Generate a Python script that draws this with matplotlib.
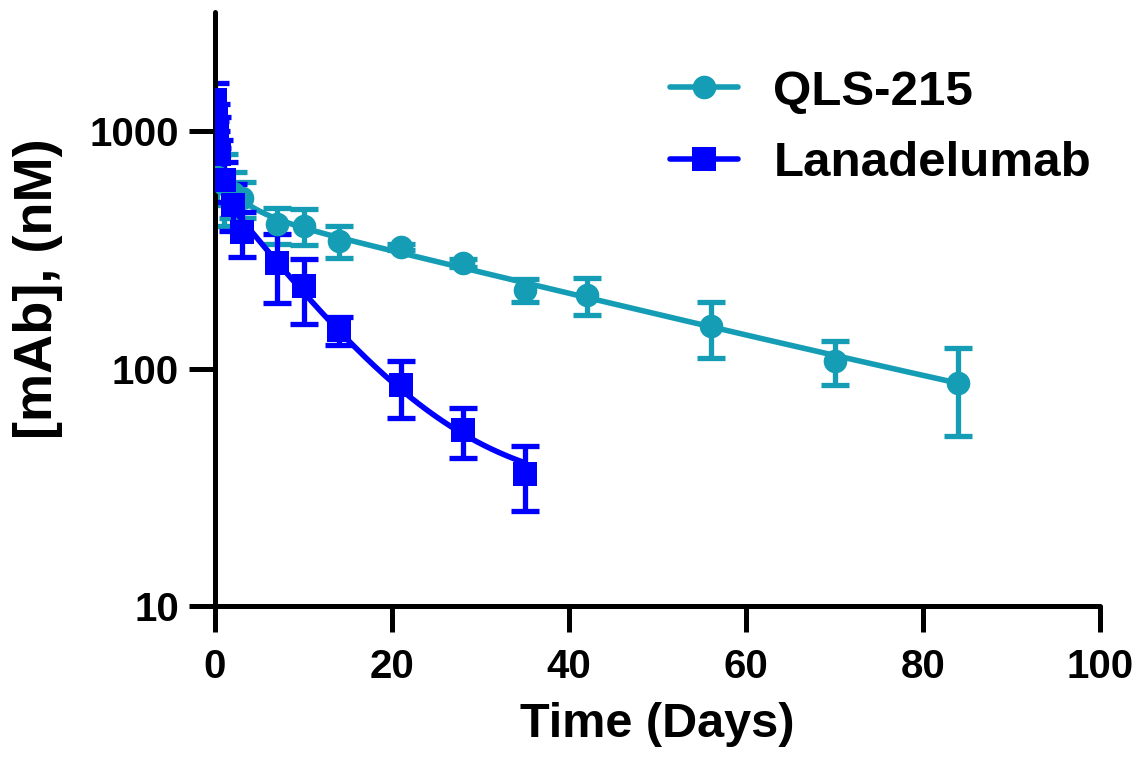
import numpy as np
import matplotlib
matplotlib.use("Agg")
import matplotlib.pyplot as plt

# ---- data ----
qls_t = [0.25, 1, 2, 3, 7, 10, 14, 21, 28, 35, 42, 56, 70, 84]
qls_mean = [640, 600, 550, 520, 405, 400, 345, 325, 278, 214, 204, 151, 108, 87]
qls_sd = [150, 200, 120, 90, 70, 70, 53, 10, 10, 23, 36, 40, 23, 35]

lan_t = [0.04, 0.125, 0.25, 0.5, 1, 2, 3, 7, 10, 14, 21, 28, 35]
lan_mean = [1350, 1150, 1000, 800, 620, 490, 376, 278, 222, 145, 85, 55, 36]
lan_sd = [250, 150, 150, 120, 120, 110, 80, 90, 68, 20, 23, 13, 11]

x_ticks = [0, 20, 40, 60, 80, 100]
y_ticks = [10, 100, 1000]
y_tick_labels = ["10", "100", "1000"]

qls_color = "#149DB5"
lan_color = "#0000FF"


def decay_fit(t, y):
    """Unweighted least-squares two-phase decay with plateau (grid search on rates)."""
    t = np.asarray(t, float)
    y = np.asarray(y, float)
    rates = np.geomspace(0.003, 30, 90)
    best = None
    for i, a in enumerate(rates):
        for j in range(i):
            b = rates[j]
            X = np.column_stack([np.exp(-a * t), np.exp(-b * t), np.ones_like(t)])
            coef, *_ = np.linalg.lstsq(X, y, rcond=None)
            if np.any(coef < 0):
                continue
            sse = np.sum((X @ coef - y) ** 2)
            if best is None or sse < best[0]:
                best = (sse, a, b, coef)
    _, a, b, coef = best
    return lambda tt: coef[0] * np.exp(-a * tt) + coef[1] * np.exp(-b * tt) + coef[2]


plt.rcParams['font.family'] = ['Liberation Sans', 'DejaVu Sans']
plt.rcParams['font.weight'] = 'bold'

fig = plt.figure(figsize=(11.41, 7.64), dpi=100)
ax = fig.add_axes([215 / 1141, 1 - 606 / 764, (1100 - 215) / 1141, (606 - 12) / 764])

for t, m, s, col, mk, lab in [
    (qls_t, qls_mean, qls_sd, qls_color, 'o', 'QLS-215'),
    (lan_t, lan_mean, lan_sd, lan_color, 's', 'Lanadelumab'),
]:
    f = decay_fit(t, m)
    tt = np.linspace(0, max(t), 600)
    ax.plot(tt, f(tt), color=col, lw=4, solid_capstyle='round', zorder=2)
    ax.errorbar(t, m, yerr=s, fmt='none', ecolor=col, elinewidth=3.8,
                capsize=10, capthick=3.8, zorder=2)
    ax.plot(t, m, linestyle='none', marker=mk, ms=17, color=col,
            markeredgewidth=0, zorder=3)
    ax.plot([], [], color=col, lw=4, marker=mk, ms=17, markeredgewidth=0,
            label=lab, solid_capstyle='round')

ax.set_yscale('log')
ax.set_xlim(0, 100)
ax.set_ylim(10, 10 ** (1 + 594 / 237.5))
ax.set_xticks(x_ticks)
ax.set_xticklabels([str(v) for v in x_ticks])
ax.yaxis.set_major_locator(matplotlib.ticker.FixedLocator(y_ticks))
ax.yaxis.set_major_formatter(matplotlib.ticker.FixedFormatter(y_tick_labels))
ax.yaxis.set_minor_locator(matplotlib.ticker.NullLocator())

for side in ['top', 'right']:
    ax.spines[side].set_visible(False)
for side in ['left', 'bottom']:
    ax.spines[side].set_linewidth(3.6)
    ax.spines[side].set_capstyle('round')

ax.tick_params(axis='both', which='major', length=19, width=3.6,
               labelsize=29, direction='out')
ax.tick_params(axis='x', pad=11)
ax.tick_params(axis='y', pad=7)
for lbl in ax.get_xticklabels() + ax.get_yticklabels():
    lbl.set_fontweight('bold')

ax.set_xlabel('Time (Days)', fontsize=35, fontweight='bold', labelpad=12)
ax.set_ylabel('[mAb], (nM)', fontsize=39, fontweight='bold')
ax.yaxis.set_label_coords(-0.172, 0.535)

leg = ax.legend(loc='upper left', bbox_to_anchor=(0.514, 0.903), frameon=False,
                fontsize=35.5, handlelength=1.38, handletextpad=0.72,
                labelspacing=0.54, borderaxespad=0, borderpad=0)
for txt in leg.get_texts():
    txt.set_fontweight('bold')

fig.savefig('out.png', dpi=100)
